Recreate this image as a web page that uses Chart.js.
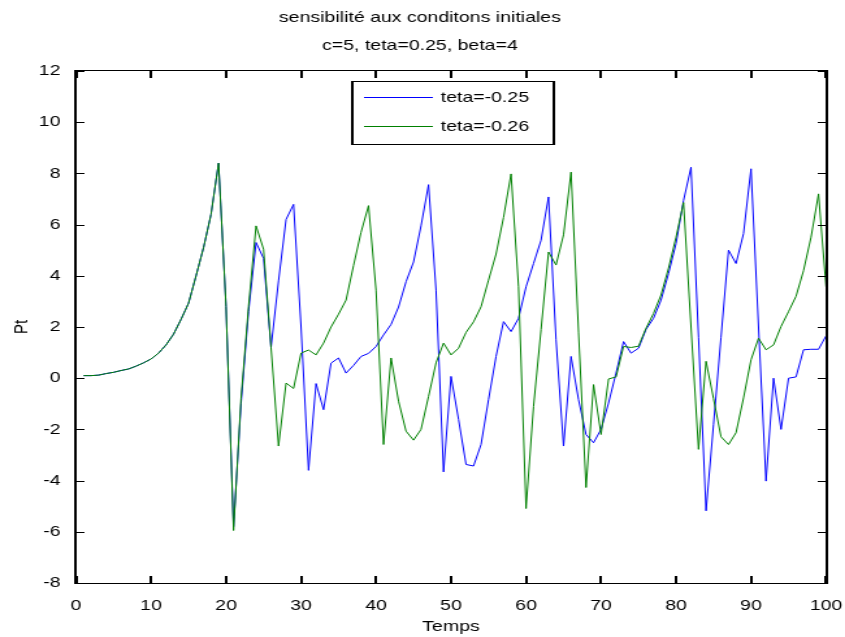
<!DOCTYPE html>
<html>
<head>
<meta charset="utf-8">
<script src="https://cdn.jsdelivr.net/npm/chart.js@4.4.1/dist/chart.umd.min.js"></script>
<style>
  html, body { margin: 0; padding: 0; background: #fff; overflow: hidden; }
  #wrap { width: 650px; height: 637px; transform: scaleX(1.3); transform-origin: 0 0; }
</style>
</head>
<body>
<!-- drawn at 650 wide and stretched to 845, the reference text is wide like that -->
<div id="wrap"><canvas id="chart" width="650" height="637"></canvas></div>
<script>
const temps = Array.from({ length: 100 }, (_, i) => i + 1);

// teta=-0.25
const tetaA = [
  0.1, 0.1, 0.12, 0.18, 0.23, 0.3, 0.36, 0.47, 0.6, 0.75,
  0.98, 1.3, 1.72, 2.3, 2.93, 4.0, 5.1, 6.4, 8.4, 2.8,
  -5.8, -1.0, 2.6, 5.3, 4.68, 1.2, 3.8, 6.2, 6.79, 2.0,
  -3.6, -0.21, -1.23, 0.59, 0.79, 0.2, 0.5, 0.85, 0.97, 1.24,
  1.69, 2.1, 2.78, 3.77, 4.54, 5.95, 7.56, 3.44, -3.66, 0.07,
  -1.61, -3.37, -3.43, -2.59, -0.84, 0.85, 2.21, 1.82, 2.34, 3.57,
  4.48, 5.39, 7.08, 1.5, -2.65, 0.85, -0.84, -2.2, -2.52, -2.0,
  -0.97, 0.2, 1.43, 0.98, 1.17, 1.91, 2.34, 3.05, 4.09, 5.26,
  6.94, 8.24, 1.6, -5.18, -1.8, 1.6, 5.0, 4.48, 5.65, 8.18,
  2.0, -4.02, 0.0, -2.0, 0.0, 0.05, 1.11, 1.13, 1.13, 1.65
];

// teta=-0.26
const tetaB = [
  0.1, 0.1, 0.12, 0.18, 0.23, 0.3, 0.36, 0.47, 0.6, 0.75,
  0.98, 1.3, 1.72, 2.3, 2.93, 4.0, 5.1, 6.4, 8.4, 2.8,
  -5.95, -0.8, 2.8, 5.95, 5.04, 1.2, -2.65, -0.19, -0.4, 0.98,
  1.1, 0.91, 1.37, 2.0, 2.5, 3.05, 4.4, 5.7, 6.74, 3.44,
  -2.59, 0.79, -0.9, -2.07, -2.42, -2.0, -0.71, 0.6, 1.37, 0.91,
  1.17, 1.79, 2.2, 2.79, 3.83, 4.85, 6.28, 7.98, 3.57, -5.09,
  -1.1, 1.9, 4.93, 4.42, 5.6, 8.05, 1.8, -4.27, -0.25, -2.2,
  -0.03, 0.05, 1.24, 1.2, 1.25, 1.95, 2.53, 3.25, 4.3, 5.51,
  6.86, 2.0, -2.78, 0.66, -0.8, -2.29, -2.59, -2.13, -0.77, 0.72,
  1.56, 1.11, 1.3, 2.02, 2.6, 3.2, 4.2, 5.51, 7.2, 3.57
];

const xTicks = [0, 10, 20, 30, 40, 50, 60, 70, 80, 90, 100];
const yTicks = [-8, -6, -4, -2, 0, 2, 4, 6, 8, 10, 12];

const titleLines = ['sensibilité aux conditons initiales', 'c=5, teta=0.25, beta=4'];
const FONT = '"Liberation Sans", Arial, sans-serif';

// box, inward ticks, titles and the legend, the way matlab draws them
// vertical strokes are 2px since the canvas is stretched sideways
const matlabFrame = {
  id: 'matlabFrame',
  afterDraw(chart) {
    const { ctx, chartArea: a, scales: { x, y } } = chart;
    const L = Math.round(a.left), R = Math.round(a.right), T = Math.round(a.top), B = Math.round(a.bottom);
    ctx.save();
    ctx.fillStyle = '#000';
    ctx.fillRect(L - 2, T - 1, 2, B - T + 2);
    ctx.fillRect(R, T - 1, 2, B - T + 2);
    ctx.fillRect(L - 2, T - 1, R - L + 4, 1);
    ctx.fillRect(L - 2, B, R - L + 4, 1);
    xTicks.forEach((v) => {
      const px = Math.round(x.getPixelForValue(v));
      ctx.fillRect(px - 1, B - 7, 2, 7);
      ctx.fillRect(px - 1, T, 2, 7);
    });
    yTicks.forEach((v) => {
      const py = Math.round(y.getPixelForValue(v));
      ctx.fillRect(L, py, 6, 1);
      ctx.fillRect(R - 6, py, 6, 1);
    });

    ctx.font = '15px ' + FONT;
    ctx.textAlign = 'center';
    ctx.textBaseline = 'middle';
    ctx.fillText(titleLines[0], 323, 18);
    ctx.fillText(titleLines[1], 323, 46);
    ctx.fillText('Temps', (a.left + a.right) / 2, 627);
    ctx.save();
    ctx.translate(17, (a.top + a.bottom) / 2);
    ctx.rotate(-Math.PI / 2);
    ctx.fillText('Pt', 0, 0);
    ctx.restore();

    // legend
    const lx = 270, ly = 81, lw = 155, lh = 63;
    ctx.fillStyle = '#fff';
    ctx.fillRect(lx, ly, lw, lh);
    ctx.fillStyle = '#000';
    ctx.fillRect(lx, ly, lw, 1);
    ctx.fillRect(lx, ly + lh, lw + 2, 1);
    ctx.fillRect(lx, ly, 2, lh);
    ctx.fillRect(lx + lw, ly, 2, lh + 1);
    ctx.font = '15px ' + FONT;
    ctx.textAlign = 'left';
    const rows = [ly + 16, ly + 45];
    chart.data.datasets.forEach((ds, i) => {
      ctx.fillStyle = ds.borderColor;
      ctx.fillRect(lx + 10, rows[i], 53, 1);
      ctx.fillStyle = '#000';
      ctx.fillText(ds.label, lx + 69, rows[i] + 1);
    });
    ctx.restore();
  }
};

const noPad = (s) => { s.paddingLeft = 0; s.paddingRight = 0; s.paddingTop = 0; s.paddingBottom = 0; };

new Chart(document.getElementById('chart'), {
  type: 'line',
  data: {
    datasets: [
      {
        label: 'teta=-0.25',
        data: temps.map((t, i) => ({ x: t, y: tetaA[i] })),
        borderColor: '#0000ff',
        borderWidth: 1,
        pointRadius: 0,
        tension: 0,
        order: 1,
      },
      {
        label: 'teta=-0.26',
        data: temps.map((t, i) => ({ x: t, y: tetaB[i] })),
        borderColor: '#008000',
        borderWidth: 1,
        pointRadius: 0,
        tension: 0,
        order: 0,
      },
    ],
  },
  options: {
    responsive: false,
    animation: false,
    devicePixelRatio: 1,
    layout: { padding: { top: 71, right: 14.6, left: 0, bottom: 0 } },
    plugins: { legend: { display: false }, title: { display: false }, tooltip: { enabled: false } },
    scales: {
      x: {
        type: 'linear',
        min: 0,
        max: 100,
        afterBuildTicks: (s) => { s.ticks = xTicks.map((v) => ({ value: v })); },
        afterFit: (s) => { s.height = 54; noPad(s); },
        grid: { display: false },
        border: { display: false },
        ticks: { color: '#000', font: { size: 15, family: FONT }, padding: 6, maxRotation: 0 },
      },
      y: {
        min: -8,
        max: 12,
        afterBuildTicks: (s) => { s.ticks = yTicks.map((v) => ({ value: v })); },
        afterFit: (s) => { s.width = 58.5; noPad(s); },
        grid: { display: false },
        border: { display: false },
        ticks: { color: '#000', font: { size: 15, family: FONT }, padding: 4 },
      },
    },
  },
  plugins: [matlabFrame],
});
</script>
</body>
</html>
